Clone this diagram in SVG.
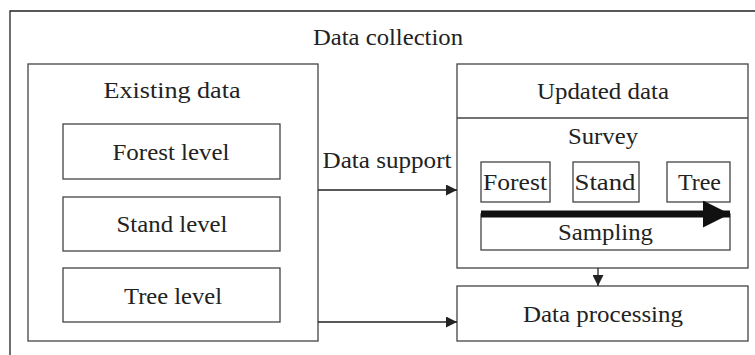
<svg xmlns="http://www.w3.org/2000/svg" width="755" height="355" viewBox="0 0 755 355">
<style>
.b{fill:#fff;stroke:#444;stroke-width:1.3}
.t{font-family:"Liberation Serif",serif;font-size:24px;fill:#222;text-anchor:middle}
.c{stroke:#222;stroke-width:1.3;fill:none}
</style>
<defs>
<marker id="ah" viewBox="0 0 10 10" refX="10" refY="5" markerWidth="13" markerHeight="11" markerUnits="userSpaceOnUse" orient="auto"><path d="M0,0L10,5L0,10z" fill="#222"/></marker>
<marker id="big" viewBox="0 0 10 10" refX="10" refY="5" markerWidth="36" markerHeight="27" markerUnits="userSpaceOnUse" orient="auto"><path d="M0,0L10,5L0,10z" fill="#111"/></marker>
</defs>
<g id="frame"><path class="c" d="M10,355V11H755"/><text class="t" x="388" y="45" textLength="150" lengthAdjust="spacingAndGlyphs">Data collection</text></g>
<g id="existing"><rect class="b" x="28" y="64" width="290" height="277"/><text class="t" x="172" y="98" textLength="137" lengthAdjust="spacingAndGlyphs">Existing  data</text></g>
<g id="forest-level"><rect class="b" x="63" y="124" width="217" height="55"/><text class="t" x="171" y="160" textLength="117" lengthAdjust="spacingAndGlyphs">Forest level</text></g>
<g id="stand-level"><rect class="b" x="63" y="197" width="217" height="54"/><text class="t" x="172" y="232" textLength="111" lengthAdjust="spacingAndGlyphs">Stand level</text></g>
<g id="tree-level"><rect class="b" x="63" y="268" width="217" height="54"/><text class="t" x="173" y="304" textLength="98" lengthAdjust="spacingAndGlyphs">Tree level</text></g>
<g id="updated"><rect class="b" x="457" y="64" width="291" height="204"/><line class="b" x1="457" y1="118" x2="748" y2="118"/><text class="t" x="603" y="99" textLength="132" lengthAdjust="spacingAndGlyphs">Updated data</text><text class="t" x="603" y="144" textLength="70" lengthAdjust="spacingAndGlyphs">Survey</text></g>
<g id="forest"><rect class="b" x="481" y="162" width="69" height="40"/><text class="t" x="515" y="190" textLength="64" lengthAdjust="spacingAndGlyphs">Forest</text></g>
<g id="stand"><rect class="b" x="573" y="162" width="66" height="40"/><text class="t" x="605" y="190" textLength="61" lengthAdjust="spacingAndGlyphs">Stand</text></g>
<g id="tree"><rect class="b" x="667" y="162" width="63" height="40"/><text class="t" x="699.5" y="190" textLength="43" lengthAdjust="spacingAndGlyphs">Tree</text></g>
<g id="sampling"><rect class="b" x="481" y="214" width="249" height="36"/><text class="t" x="605.5" y="240" textLength="95" lengthAdjust="spacingAndGlyphs">Sampling</text></g>
<g id="processing"><rect class="b" x="457" y="286" width="291" height="55"/><text class="t" x="603" y="322" textLength="160" lengthAdjust="spacingAndGlyphs">Data processing</text></g>
<g id="connectors">
<line x1="481" y1="214" x2="730" y2="214" stroke="#111" stroke-width="7" marker-end="url(#big)"/>
<line class="c" x1="318" y1="190" x2="457" y2="190" marker-end="url(#ah)"/>
<text class="t" x="387" y="168" textLength="129" lengthAdjust="spacingAndGlyphs">Data support</text>
<line class="c" x1="318" y1="322" x2="457" y2="322" marker-end="url(#ah)"/>
<line class="c" x1="598" y1="268" x2="598" y2="286" marker-end="url(#ah)"/>
</g>
</svg>
